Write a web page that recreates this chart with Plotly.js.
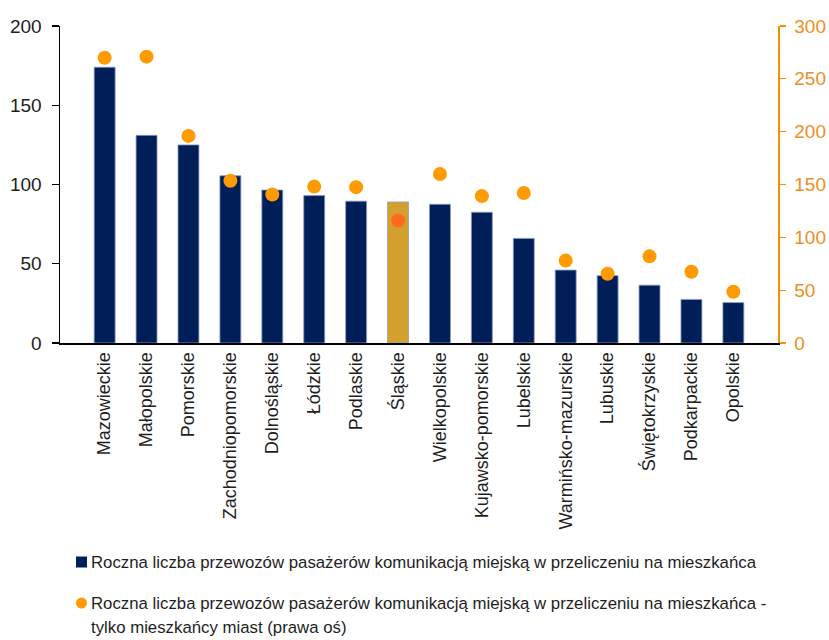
<!DOCTYPE html>
<html>
<head>
<meta charset="utf-8">
<script src="https://cdn.plot.ly/plotly-3.0.1.min.js"></script>
<style>html,body{margin:0;padding:0;background:#fff;}#chart{width:829px;height:640px;}</style>
</head>
<body>
<div id="chart"></div>
<script>
var regions = ["Mazowieckie","Małopolskie","Pomorskie","Zachodniopomorskie","Dolnośląskie","Łódzkie","Podlaskie","Śląskie","Wielkopolskie","Kujawsko-pomorskie","Lubelskie","Warmińsko-mazurskie","Lubuskie","Świętokrzyskie","Podkarpackie","Opolskie"];
var perResident = [174, 131, 125, 105.5, 96.5, 93, 89.5, 89, 87.5, 82.5, 66, 46, 42.5, 36.5, 27.5, 25.5];
var perCityResident = [270, 271, 196, 153.5, 140.5, 148, 147.5, 116, 160, 139, 142, 78, 65.5, 82, 67.5, 48.5];
var leftTicks = [0, 50, 100, 150, 200];
var rightTicks = [0, 50, 100, 150, 200, 250, 300];
var highlight = "Śląskie";
var legendBar = "Roczna liczba przewozów pasażerów komunikacją miejską w przeliczeniu na mieszkańca";
var legendDotLine1 = "Roczna liczba przewozów pasażerów komunikacją miejską w przeliczeniu na mieszkańca -";
var legendDotLine2 = "tylko mieszkańcy miast (prawa oś)";

var BAR = "#001F58", BAR_HL = "#D4A02D", DOT = "#FF9A00", DOT_HL = "#FF6A1F";
var barColors = regions.map(function(r){ return r === highlight ? BAR_HL : BAR; });
var dotColors = regions.map(function(r){ return r === highlight ? DOT_HL : DOT; });

var FONT = "Liberation Sans, Arial, sans-serif";
var TXT = "#1e1e1e";

// plot-area geometry (pixels) for placing the hand-made legend
var L = 60, R = 778, T = 26, B = 343;
function px(x){ return (x - L) / (R - L); }
function py(y){ return (B - y) / (B - T); }

var traces = [
  {
    type: "bar", x: regions, y: perResident, name: legendBar,
    marker: {color: barColors, line: {color: "#8c9cc4", width: 0.8}},
    width: 0.5, yaxis: "y"
  },
  {
    type: "scatter", mode: "markers", x: regions, y: perCityResident, name: legendDotLine1 + " " + legendDotLine2,
    marker: {color: dotColors, size: 14}, yaxis: "y2"
  }
];

function legendText(t, x, y){
  return {xref: "paper", yref: "paper", x: px(x), y: py(y), xanchor: "left", yanchor: "middle",
    text: t, showarrow: false, font: {family: FONT, size: 16.8, color: TXT}};
}

var layout = {
  width: 829, height: 640,
  margin: {l: L, r: 829 - R, t: T, b: 640 - B, autoexpand: false},
  paper_bgcolor: "#fff", plot_bgcolor: "#fff",
  font: {family: FONT, color: TXT, size: 17},
  showlegend: false,
  xaxis: {
    type: "category", tickangle: -90, showline: true, linecolor: "#000", linewidth: 2,
    ticks: "", tickfont: {family: FONT, size: 18, color: TXT}, showgrid: false,
    zeroline: false, automargin: false
  },
  yaxis: {
    range: [0, 200], tickvals: leftTicks, showline: true, linecolor: "#000", linewidth: 1.5,
    ticks: "outside", ticklen: 7, tickcolor: "#000", tickwidth: 1.2, showgrid: false, zeroline: false,
    tickfont: {family: FONT, size: 19, color: TXT}, ticklabelstandoff: 6, automargin: false
  },
  yaxis2: {
    range: [0, 300], tickvals: rightTicks, overlaying: "y", side: "right", showline: true,
    linecolor: "#F39200", linewidth: 1.5, ticks: "outside", ticklen: 6, tickcolor: "#F39200", tickwidth: 1.2,
    showgrid: false, zeroline: false, tickfont: {family: FONT, size: 19, color: "#EE8E1E"},
    ticklabelstandoff: 5, automargin: false
  },
  shapes: [
    {type: "rect", xref: "paper", yref: "paper", x0: px(76), x1: px(87), y0: py(567.5), y1: py(556.5),
     fillcolor: BAR, line: {width: 0}},
    {type: "circle", xref: "paper", yref: "paper", x0: px(76), x1: px(87), y0: py(608.5), y1: py(597.5),
     fillcolor: DOT, line: {width: 0}}
  ],
  annotations: [
    legendText(legendBar, 89, 562),
    legendText(legendDotLine1, 89, 603),
    legendText(legendDotLine2, 89, 627)
  ]
};

Plotly.newPlot("chart", traces, layout, {displayModeBar: false, staticPlot: true});
</script>
</body>
</html>
